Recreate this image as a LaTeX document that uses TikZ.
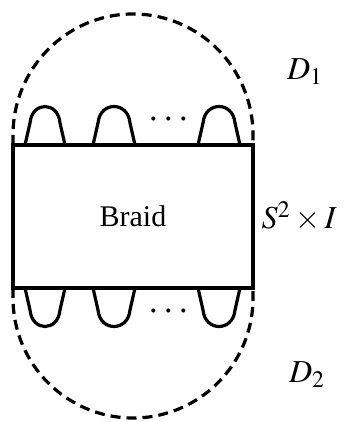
\documentclass[tikz,border=0pt]{standalone}
\usepackage{mathptmx}
\usepackage{fontspec}
\setmainfont{Liberation Serif}
\usetikzlibrary{positioning}

\begin{document}
\begin{tikzpicture}[
    x=0.5pt, y=0.5pt,
    box/.style={
        rectangle, draw, line width=1.6pt,
        minimum width=120pt, minimum height=71.5pt,
        text centered, font=\fontsize{15}{18}\selectfont
    },
    lbl/.style={font=\fontsize{16}{19}\selectfont},
    strand/.style={line width=1.6pt, line join=round},
    bound/.style={line width=1.6pt, dash pattern=on 5pt off 3pt}
]
    \useasboundingbox (0,0) rectangle (344,422);

    % Braid box
    \node[box] (braid) at (133,205.5) {Braid};
    \node[lbl, right=0pt of braid] (prod) {$S^2\times I$};

    % Caps on top and cups below
    \foreach \a/\b in {25/65, 93/135, 198/240} {
        \draw[strand] (\a,277) -- (\a+5,299)
            .. controls (\a+7,321) and (\b-7,321) .. (\b-5,299) -- (\b,277);
        \draw[strand] (\a,134) -- (\a+5,112)
            .. controls (\a+7,90) and (\b-7,90) .. (\b-5,112) -- (\b,134);
    }
    \node[font=\fontsize{19}{22}\selectfont] (dotsup) at (169,302) {$\cdots$};
    \node[font=\fontsize{19}{22}\selectfont] (dotsdn) at (169,110) {$\cdots$};

    % Balls D1 and D2
    \draw[bound] (13,277) -- (13,287) arc[start angle=180, end angle=0, x radius=120, y radius=121] -- (253,277);
    \draw[bound] (13,134) -- (13,124) arc[start angle=180, end angle=360, x radius=120, y radius=120] -- (253,134);

    \node[lbl] (d1) at (305,350) {$D_1$};
    \node[lbl] (d2) at (307,47) {$D_2$};
\end{tikzpicture}
\end{document}
